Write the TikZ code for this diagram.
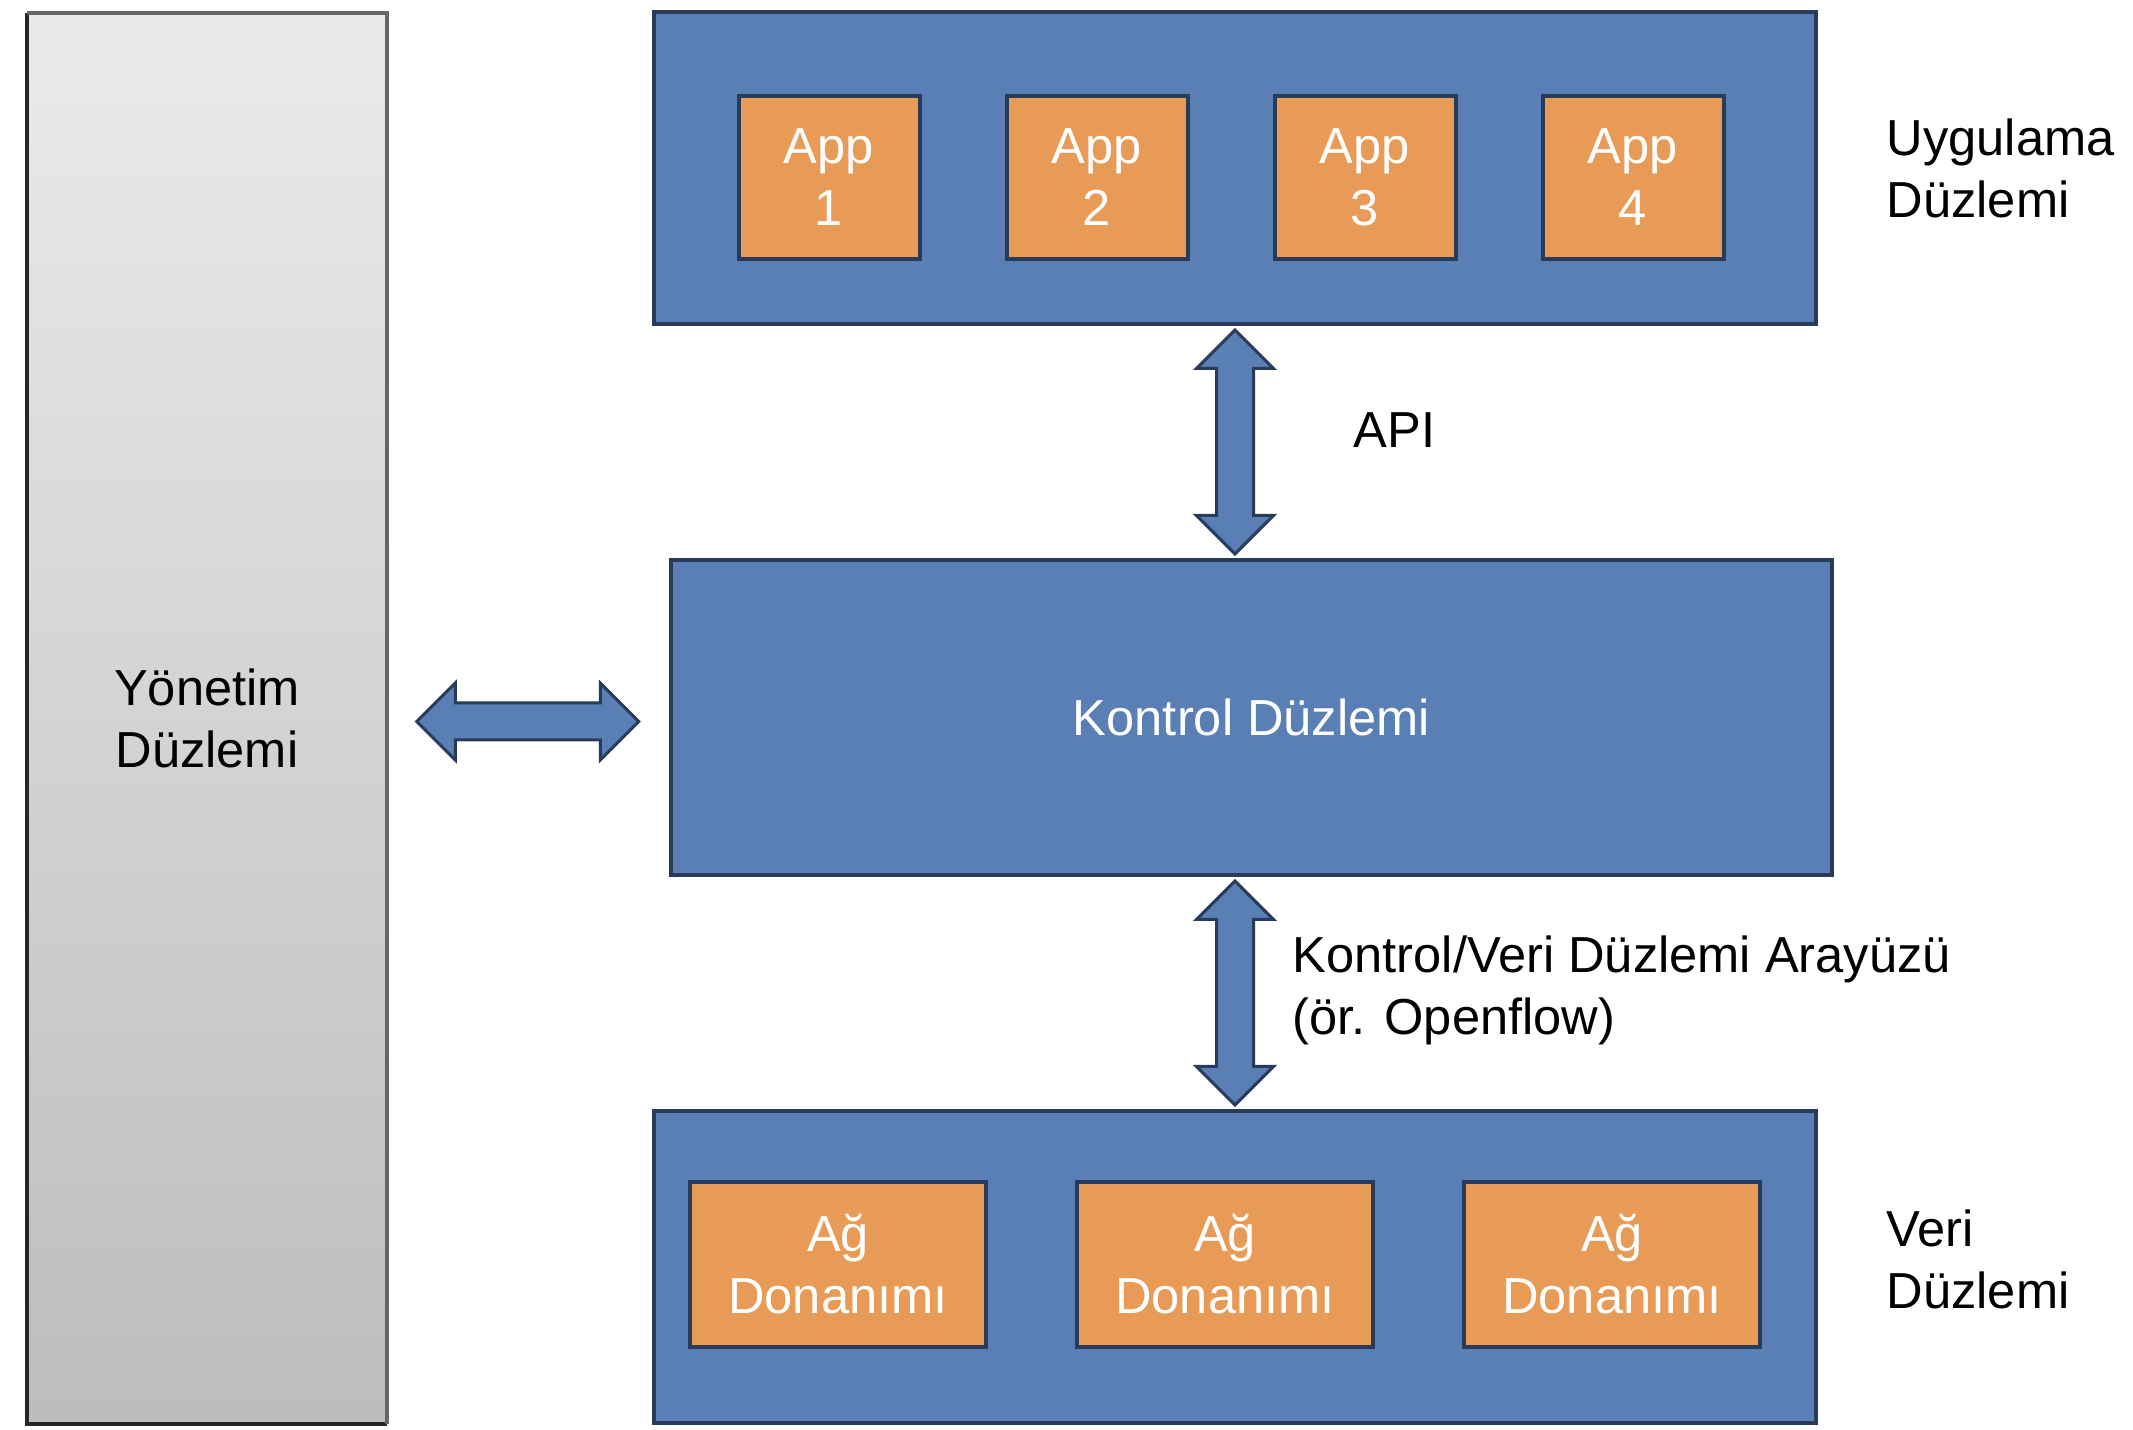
\documentclass[tikz,border=0pt]{standalone}
\usepackage{fontspec}
\setmainfont{Liberation Sans}
\usetikzlibrary{positioning,shapes.arrows,calc}

\definecolor{planeblue}{HTML}{5A7FB5}
\definecolor{edgeblue}{HTML}{283B5A}
\definecolor{apporange}{HTML}{E89B56}

\begin{document}
\begin{tikzpicture}[font={\fontsize{14.4}{17.6}\selectfont},
    plane/.style={draw=edgeblue, line width=0.04cm, fill=planeblue, inner sep=0pt},
    appbox/.style={draw=edgeblue, line width=0.04cm, fill=apporange, text=white, align=center,
        minimum width=1.81cm, minimum height=1.63cm, inner sep=0pt},
    hwbox/.style={appbox, minimum width=2.96cm, minimum height=1.65cm},
    fatarrow/.style={double arrow, draw=edgeblue, line width=0.03cm, fill=planeblue,
        inner xsep=0pt, inner ysep=0.17cm, double arrow head extend=0.2cm, minimum height=2.24cm},
    lbl/.style={inner sep=0pt, align=left}]
    \useasboundingbox (0,0) rectangle (21.33,-14.30);

    % management plane on the left
    \node[top color=black!8, bottom color=black!26,
        minimum width=3.58cm, minimum height=14.09cm, inner sep=0pt, align=center]
        (mgmt) at (2.07,-7.185) {Yönetim\\Düzlemi};
    \draw[black!85, line width=0.04cm] (mgmt.north west) -- (mgmt.south west) -- (mgmt.south east);
    \draw[black!60, line width=0.04cm] (mgmt.north west) -- (mgmt.north east) -- (mgmt.south east);

    % application plane
    \node[plane, minimum width=11.62cm, minimum height=3.12cm] (app_plane) at (12.35,-1.68) {};
    \node[appbox] (app_1) at (8.29,-1.775) {App\\1};
    \node[appbox, right=0.83cm of app_1] (app_2) {App\\2};
    \node[appbox, right=0.83cm of app_2] (app_3) {App\\3};
    \node[appbox, right=0.83cm of app_3] (app_4) {App\\4};
    \node[lbl, anchor=west] (app_lbl) at ([xshift=0.68cm]app_plane.east) {Uygulama\\Düzlemi};

    % control plane
    \node[plane, text=white, minimum width=11.61cm, minimum height=3.15cm] (ctrl) at (12.515,-7.175) {Kontrol Düzlemi};

    % data plane
    \node[plane, minimum width=11.62cm, minimum height=3.12cm] (hw_plane) at (12.35,-12.67) {};
    \node[hwbox] (hw_1) at (8.38,-12.645) {Ağ\\Donanımı};
    \node[hwbox, right=0.87cm of hw_1] (hw_2) {Ağ\\Donanımı};
    \node[hwbox, right=0.87cm of hw_2] (hw_3) {Ağ\\Donanımı};
    \node[lbl, anchor=west] (hw_lbl) at ([xshift=0.68cm, yshift=0.08cm]hw_plane.east) {Veri\\Düzlemi};

    % interfaces
    \node[fatarrow, rotate=90] (api_arrow) at ($(app_plane.south)!0.5!(app_plane.south |- ctrl.north)$) {};
    \node[lbl, anchor=west] (api_lbl) at ([xshift=1.18cm, yshift=0.12cm]api_arrow.center) {API};

    \node[fatarrow, rotate=90] (cvi_arrow) at ($(ctrl.south -| app_plane.south)!0.5!(hw_plane.north)$) {};
    \node[lbl, anchor=west] (cvi_lbl) at ([xshift=0.57cm, yshift=0.03cm]cvi_arrow.center) {Kontrol/Veri Düzlemi Arayüzü\\(ör. Openflow)};

    \node[fatarrow, minimum height=2.22cm, yshift=-0.04cm] (mgmt_arrow) at ($(mgmt.east |- ctrl.west)!0.5!(ctrl.west)$) {};

\end{tikzpicture}
\end{document}
